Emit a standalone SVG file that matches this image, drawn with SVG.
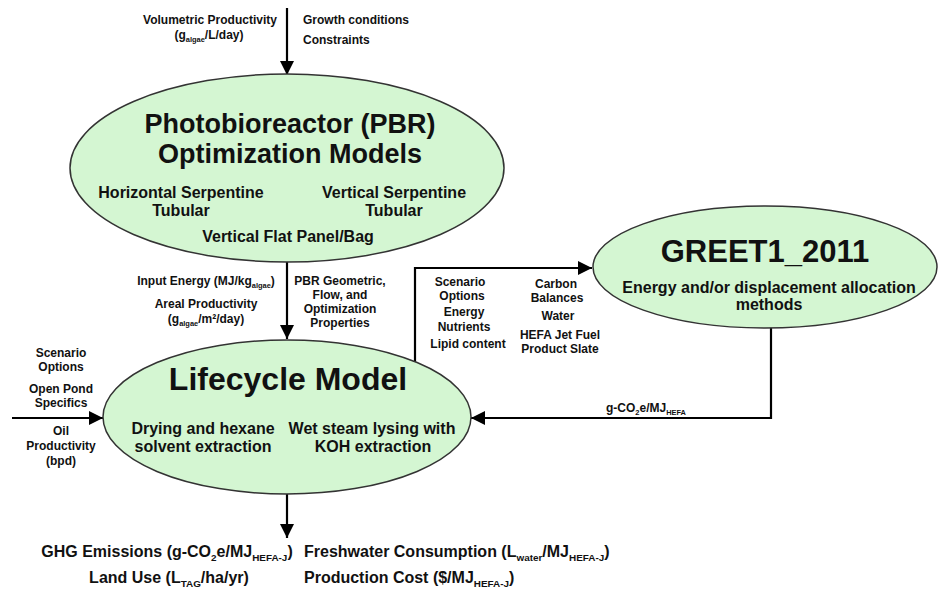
<svg xmlns="http://www.w3.org/2000/svg" width="938" height="590" viewBox="0 0 938 590">
<style>
text{font-family:"Liberation Sans",Arial,sans-serif;font-weight:bold;fill:#111}
.node{fill:#d4f6d2;stroke:#333;stroke-width:1.5}
.conn{fill:none;stroke:#000;stroke-width:2.2}
.t27{font-size:27px}
.t16{font-size:16px}
.t12{font-size:12px}
.m{text-anchor:middle}
.sub{font-size:0.62em}
</style>
<defs>
<marker id="ah" viewBox="0 0 10 10" refX="10" refY="5" markerWidth="7" markerHeight="7" markerUnits="userSpaceOnUse" orient="auto">
<path d="M0,0 L10,5 L0,10 Z" fill="#000"/>
</marker>
<marker id="ahb" viewBox="0 0 10 10" refX="10" refY="5" markerWidth="14" markerHeight="14" markerUnits="userSpaceOnUse" orient="auto">
<path d="M0,0 L10,5 L0,10 Z" fill="#000"/>
</marker>
</defs>

<g id="connectors">
<path class="conn" d="M287,8 V75" marker-end="url(#ahb)"/>
<path class="conn" d="M287,262 V339" marker-end="url(#ahb)"/>
<path class="conn" d="M12,418 H103" marker-end="url(#ahb)"/>
<path class="conn" d="M415,362 V268 H592" marker-end="url(#ahb)"/>
<path class="conn" d="M771,327 V418 H471" marker-end="url(#ahb)"/>
<path class="conn" d="M287,494 V538" marker-end="url(#ahb)"/>
</g>

<g id="labels">
<text class="t12 m" x="210" y="24">Volumetric Productivity</text>
<text class="t12 m" x="209" y="39">(g<tspan class="sub" dy="3">algae</tspan><tspan dy="-3">/L/day)</tspan></text>
<text class="t12" x="303" y="24">Growth conditions</text>
<text class="t12" x="303" y="44">Constraints</text>

<text class="t12 m" x="206" y="285">Input Energy (MJ/kg<tspan class="sub" dy="3">algae</tspan><tspan dy="-3">)</tspan></text>
<text class="t12 m" x="206" y="308">Areal Productivity</text>
<text class="t12 m" x="206" y="323">(g<tspan class="sub" dy="3">algae</tspan><tspan dy="-3">/m²/day)</tspan></text>
<text class="t12 m" x="340" y="285">PBR Geometric,</text>
<text class="t12 m" x="340" y="299">Flow, and</text>
<text class="t12 m" x="340" y="313">Optimization</text>
<text class="t12 m" x="340" y="327">Properties</text>

<text class="t12 m" x="61" y="357">Scenario</text>
<text class="t12 m" x="61" y="371">Options</text>
<text class="t12 m" x="61" y="393">Open Pond</text>
<text class="t12 m" x="61" y="407">Specifics</text>
<text class="t12 m" x="61" y="435">Oil</text>
<text class="t12 m" x="61" y="450">Productivity</text>
<text class="t12 m" x="61" y="465">(bpd)</text>

<text class="t12 m" x="460" y="286">Scenario</text>
<text class="t12 m" x="462" y="300">Options</text>
<text class="t12 m" x="464" y="316">Energy</text>
<text class="t12 m" x="464" y="331">Nutrients</text>
<text class="t12 m" x="468" y="348">Lipid content</text>
<text class="t12 m" x="556" y="288">Carbon</text>
<text class="t12 m" x="557" y="302">Balances</text>
<text class="t12 m" x="558" y="320">Water</text>
<text class="t12 m" x="560" y="339">HEFA Jet Fuel</text>
<text class="t12 m" x="560" y="353">Product Slate</text>

<text class="t12 m" x="646" y="412">g-CO<tspan class="sub" dy="3">2</tspan><tspan dy="-3">e/MJ</tspan><tspan class="sub" dy="3">HEFA</tspan></text>

<text class="t16 m" x="167" y="557">GHG Emissions (g-CO<tspan class="sub" dy="4">2</tspan><tspan dy="-4">e/MJ</tspan><tspan class="sub" dy="4">HEFA-J</tspan><tspan dy="-4">)</tspan></text>
<text class="t16 m" x="169" y="583">Land Use (L<tspan class="sub" dy="4">TAG</tspan><tspan dy="-4">/ha/yr)</tspan></text>
<text class="t16" x="304" y="557">Freshwater Consumption (L<tspan class="sub" dy="4">water</tspan><tspan dy="-4">/MJ</tspan><tspan class="sub" dy="4">HEFA-J</tspan><tspan dy="-4">)</tspan></text>
<text class="t16" x="304" y="583">Production Cost ($/MJ<tspan class="sub" dy="4">HEFA-J</tspan><tspan dy="-4">)</tspan></text>
</g>

<g id="pbr">
<ellipse class="node" cx="287" cy="168" rx="217" ry="94"/>
<text class="t27 m" x="290" y="133">Photobioreactor (PBR)</text>
<text class="t27 m" x="290" y="163">Optimization Models</text>
<text class="t16 m" x="181" y="198">Horizontal Serpentine</text>
<text class="t16 m" x="181" y="216">Tubular</text>
<text class="t16 m" x="394" y="198">Vertical Serpentine</text>
<text class="t16 m" x="394" y="216">Tubular</text>
<text class="t16 m" x="288" y="242">Vertical Flat Panel/Bag</text>
</g>

<g id="greet">
<ellipse class="node" cx="765" cy="267" rx="172" ry="61"/>
<text class="m" x="765" y="262" font-size="31">GREET1_2011</text>
<text class="t16 m" x="769" y="293">Energy and/or displacement allocation</text>
<text class="t16 m" x="769" y="310">methods</text>
</g>

<g id="lifecycle">
<ellipse class="node" cx="287" cy="417" rx="184" ry="77"/>
<text class="m" x="288" y="390" font-size="32">Lifecycle Model</text>
<text class="t16 m" x="203" y="434">Drying and hexane</text>
<text class="t16 m" x="203" y="452">solvent extraction</text>
<text class="t16 m" x="372" y="434">Wet steam lysing with</text>
<text class="t16 m" x="373" y="452">KOH extraction</text>
</g>
</svg>
